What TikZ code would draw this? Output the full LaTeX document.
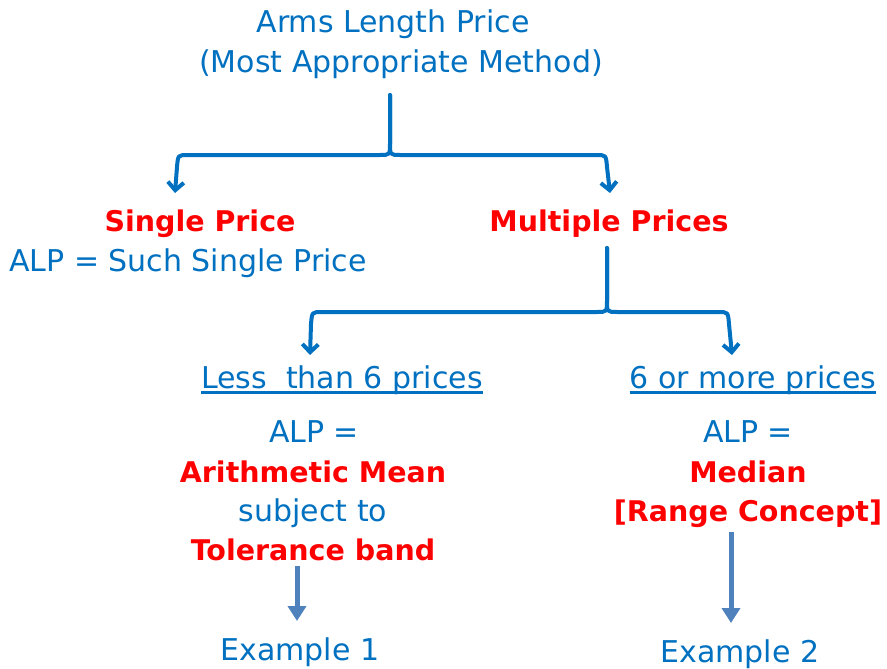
\documentclass[tikz,border=0pt]{standalone}
\usepackage{fontspec}
\setmainfont{DejaVu Sans}
\usetikzlibrary{arrows.meta}
\definecolor{alpblue}{HTML}{0070C0}
\definecolor{alpred}{HTML}{FF0000}
\definecolor{stemblue}{HTML}{4F81BD}

\begin{document}
\begin{tikzpicture}[x=1pt,y=-1pt,line join=round,line cap=round,
    txt/.style={text=alpblue,inner sep=0pt,anchor=base,font=\fontsize{30}{36}\selectfont},
    hot/.style={text=alpred,inner sep=0pt,anchor=base,font=\fontsize{28.5}{34}\selectfont\bfseries},
    uline/.style={draw=alpblue,line width=2.5pt,line cap=butt},
    fork/.style={draw=alpblue,line width=4pt,-{Straight Barb[length=8pt,width=16pt]}},
    stem/.style={draw=stemblue,line width=5pt,line cap=butt,-{Triangle[length=15pt,width=18pt]}}]
    \useasboundingbox (0,0) rectangle (887,669);
    % heading
    \node[txt] (alp) at (393,33) {Arms Length Price};
    \node[txt] (mam) at (401,73) {(Most Appropriate Method)};
    % first split
    \node[hot] (single) at (200,231) {Single Price};
    \node[txt] (such) at (188,271) {ALP = Such Single Price};
    \node[hot] (multi) at (609,231) {Multiple Prices};
    % second split, underlined headings
    \node[txt] (less) at (342,388) {Less\ \ than 6 prices};
    \node[txt] (more) at (753,388) {6 or more prices};
    \draw[uline] ([yshift=-4.5pt]less.base west) -- ([yshift=-4.5pt]less.base east);
    \draw[uline] ([yshift=-4.5pt]more.base west) -- ([yshift=-4.5pt]more.base east);
    \node[txt] (alpl) at (314,442) {ALP =};
    \node[hot] (mean) at (313,482) {Arithmetic Mean};
    \node[txt] (subj) at (313,521) {subject to};
    \node[hot] (band) at (313,560) {Tolerance band};
    \node[txt] (alpr) at (748,442) {ALP =};
    \node[hot] (median) at (748,482) {Median};
    \node[hot] (range) at (748,521) {[Range Concept]};
    \node[txt] (ex1) at (300,660) {Example 1};
    \node[txt] (ex2) at (740,662) {Example 2};
    % brace points
    \coordinate (top1) at (390,95);
    \coordinate (top2) at (607,248);
    \coordinate (tipa) at (175,193);
    \coordinate (tipb) at (610,193);
    \coordinate (tipc) at (310,355);
    \coordinate (tipd) at (732,355);
    \draw[fork] (top1) -- (390,143) .. controls (390,155) .. (380,155) -- (188,155) .. controls (178,155) .. (177,167) -- (tipa);
    \draw[fork] (top1) -- (390,143) .. controls (390,155) .. (400,155) -- (596,155) .. controls (606,155) .. (607,167) -- (tipb);
    \draw[fork] (top2) -- (607,300) .. controls (607,312) .. (597,312) -- (322,312) .. controls (312,312) .. (311,324) -- (tipc);
    \draw[fork] (top2) -- (607,300) .. controls (607,312) .. (617,312) -- (718,312) .. controls (728,312) .. (729,324) -- (tipd);
    % down to the examples
    \draw[stem] (297,566) -- (297,621);
    \draw[stem] (731,532) -- (731,623);
\end{tikzpicture}
\end{document}
